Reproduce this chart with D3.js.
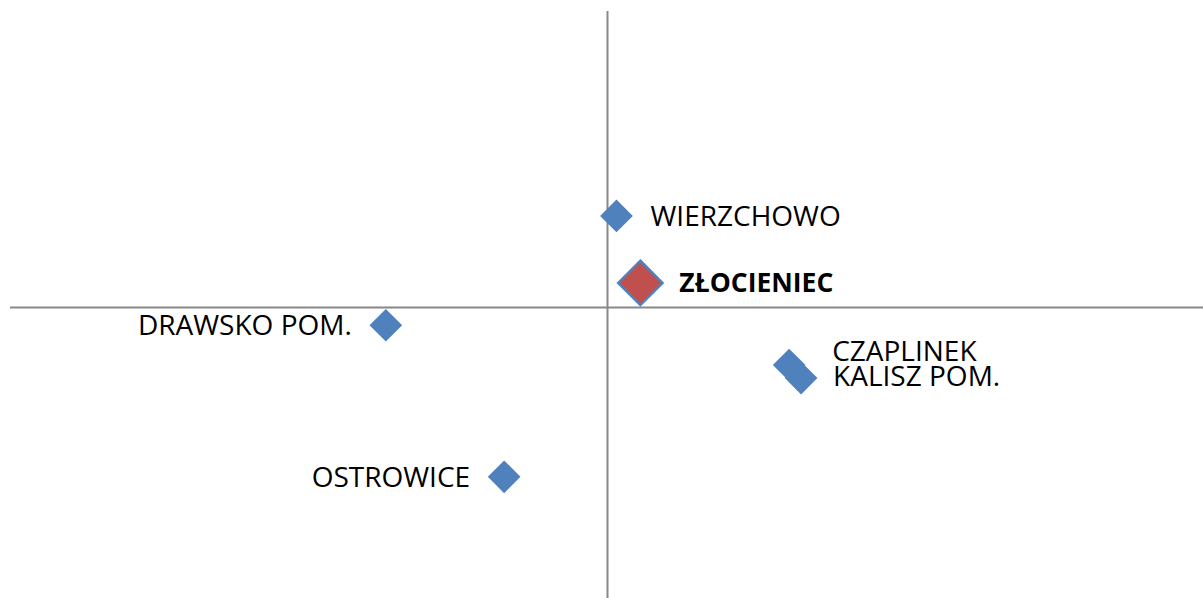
<!DOCTYPE html>
<html>
<head>
<meta charset="utf-8">
<script src="https://cdn.jsdelivr.net/npm/d3@7"></script>
<style>
  body { margin: 0; background: #fff; }
  svg { display: block; }
  text { font-family: "Open Sans", "Noto Sans", sans-serif; fill: #000; }
</style>
</head>
<body>
<svg id="chart" width="1203" height="598"></svg>
<script>
// gminy, wskaźnik X i Y
const names = ["WIERZCHOWO", "ZŁOCIENIEC", "DRAWSKO POM.", "CZAPLINEK", "KALISZ POM.", "OSTROWICE"];
const xValues = [0.015, 0.055, -0.371, 0.304, 0.324, -0.173];
const yValues = [0.309, 0.083, -0.060, -0.194, -0.238, -0.571];
const highlight = ["ZŁOCIENIEC"];

const width = 1203, height = 598;
const plot = { left: 10, right: 1205, top: 11, bottom: 604 };

const svg = d3.select("#chart");

const x = d3.scaleLinear().domain([-1, 1]).range([plot.left, plot.right]);
const y = d3.scaleLinear().domain([-1, 1]).range([plot.bottom, plot.top]);

const points = names.map((name, i) => ({
  name,
  x: xValues[i],
  y: yValues[i],
  main: highlight.includes(name)
}));

// label placement: side, horizontal gap and vertical nudge (as in the original)
const labelSide = { "DRAWSKO POM.": "left", "OSTROWICE": "left" };
const labelGap = { "CZAPLINEK": 43, "KALISZ POM.": 32 };
const labelNudge = { "CZAPLINEK": -14, "KALISZ POM.": -2 };

// axes crossing at zero
const axisLayer = svg.append("g").attr("class", "axes");
axisLayer.append("line")
  .attr("x1", plot.left).attr("x2", width)
  .attr("y1", y(0)).attr("y2", y(0))
  .attr("stroke", "#888").attr("stroke-width", 2);
axisLayer.append("line")
  .attr("x1", x(0)).attr("x2", x(0))
  .attr("y1", plot.top).attr("y2", height)
  .attr("stroke", "#888").attr("stroke-width", 2);

const symbolSmall = d3.symbol().type(d3.symbolDiamond2).size(680);
const symbolBig = d3.symbol().type(d3.symbolDiamond2).size(1250);

const pointLayer = svg.append("g").attr("class", "points");

pointLayer.selectAll("path.point")
  .data(points)
  .join("path")
  .attr("class", "point")
  .attr("transform", (d) => `translate(${x(d.x)}, ${y(d.y)})`)
  .attr("d", (d) => (d.main ? symbolBig() : symbolSmall()))
  .attr("fill", (d) => (d.main ? "#C0504D" : "#4F81BD"))
  .attr("stroke", "#4F81BD")
  .attr("stroke-width", (d) => (d.main ? 2.5 : 0));

pointLayer.selectAll("text.label")
  .data(points)
  .join("text")
  .attr("class", "label")
  .attr("x", (d) => {
    const off = labelGap[d.name] || (d.main ? 39 : 34);
    return labelSide[d.name] === "left" ? x(d.x) - off : x(d.x) + off;
  })
  .attr("y", (d) => y(d.y) + (labelNudge[d.name] || 0))
  .attr("dy", "0.36em")
  .attr("text-anchor", (d) => (labelSide[d.name] === "left" ? "end" : "start"))
  .attr("font-size", (d) => (d.main ? "26.5px" : "28px"))
  .attr("font-weight", (d) => (d.main ? "bold" : "normal"))
  .text((d) => d.name);
</script>
</body>
</html>
